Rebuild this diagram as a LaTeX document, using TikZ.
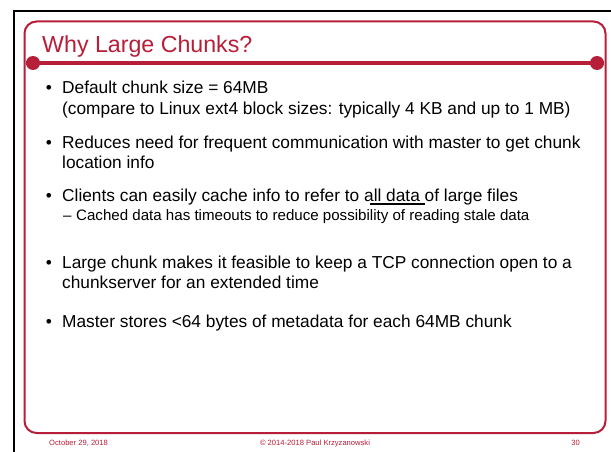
\documentclass[tikz,border=0pt]{standalone}
\usepackage{fontspec}
\setmainfont{Liberation Sans}
\definecolor{slidered}{RGB}{183,30,56}
\begin{document}
\begin{tikzpicture}[x=1pt,y=-1pt,
  txt/.style={anchor=base west,inner sep=0pt,font=\fontsize{17.3}{20}\selectfont},
  subtxt/.style={anchor=base west,inner sep=0pt,font=\fontsize{15.1}{17.5}\selectfont},
  dot/.style={anchor=base,inner sep=0pt,font=\fontsize{17.3}{20}\selectfont},
  foot/.style={inner sep=0pt,text=slidered,font=\fontsize{7.6}{9}\selectfont}]
\useasboundingbox (0,0) rectangle (611,452);
\fill[white] (0,0) rectangle (611,452);
% cropped slide edge
\draw[line width=2pt] (14,452) -- (14,11) -- (611,11);
% slide frame
\draw[slidered,line width=2pt,rounded corners=12pt] (24.5,21.5) rectangle (605.5,433);
\draw[slidered,line width=3.5pt] (26,63) -- (604,63);
\fill[slidered] (33,63) circle (7);
\fill[slidered] (597,63) circle (7);
% title
\node[anchor=base west,inner sep=0pt,text=slidered,font=\fontsize{23.2}{27}\selectfont] (title) at (42,53) {Why Large Chunks?};
% bullets
\node[dot] (b1) at (49,94) {•};
\node[txt] (t1) at (62,94) {Default chunk size = 64MB};
\node[txt] (t1b) at (62,114) {(compare to Linux ext4 block sizes: typically 4 KB and up to 1 MB)};
\node[dot] (b2) at (49,148) {•};
\node[txt] (t2) at (62,148) {Reduces need for frequent communication with master to get chunk};
\node[txt] (t2b) at (62,168) {location info};
\node[dot] (b3) at (49,201) {•};
\node[txt] (t3) at (62,201) {Clients can easily cache info to refer to
  a{\setbox0\hbox{ll data }\rlap{\kern-4pt\rule[-3.5pt]{\dimexpr\wd0+4pt\relax}{1.8pt}}}ll data of large files};
\node[subtxt] (d3) at (63,220) {–};
\node[subtxt] (t3b) at (76,220) {Cached data has timeouts to reduce possibility of reading stale data};
\node[dot] (b4) at (49,268) {•};
\node[txt] (t4) at (62,268) {Large chunk makes it feasible to keep a TCP connection open to a};
\node[txt] (t4b) at (62,288) {chunkserver for an extended time};
\node[dot] (b5) at (49,327) {•};
\node[txt] (t5) at (62,327) {Master stores <64 bytes of metadata for each 64MB chunk};
% footer
\node[foot,anchor=base west] (date) at (49,445) {October 29, 2018};
\node[foot,anchor=base] (copy) at (315,445) {© 2014-2018 Paul Krzyzanowski};
\node[foot,anchor=base east] (page) at (580,445) {30};
\end{tikzpicture}
\end{document}
